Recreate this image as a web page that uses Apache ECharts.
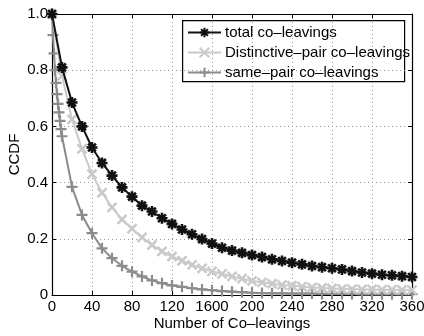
<!DOCTYPE html>
<html>
<head>
<meta charset="utf-8">
<script src="https://cdn.jsdelivr.net/npm/echarts@6/dist/echarts.min.js"></script>
<style>html,body{margin:0;padding:0;background:#fff}#c{width:424px;height:336px}</style>
</head>
<body>
<div id="c"></div>
<script>
var xTicks = [0, 40, 80, 120, 160, 200, 240, 280, 320, 360];
var xTickLabels = ['0', '40', '80', '120', '1600', '200', '240', '280', '320', '360'];
var yTicks = [0, 0.2, 0.4, 0.6, 0.8, 1.0];
var yTickLabels = ['0', '0.2', '0.4', '0.6', '0.8', '1.0'];

var seriesNames = ['total co\u2013leavings', 'Distinctive\u2013pair co\u2013leavings', 'same\u2013pair co\u2013leavings'];

var xCommon = [0,10,20,30,40,50,60,70,80,90,100,110,120,130,140,150,160,170,180,190,200,210,220,230,240,250,260,270,280,290,300,310,320,330,340,350,360];
var totalVals = [1.0,0.81,0.685,0.60,0.525,0.47,0.425,0.383,0.35,0.318,0.297,0.273,0.253,0.233,0.216,0.199,0.183,0.168,0.158,0.150,0.142,0.135,0.127,0.121,0.115,0.109,0.103,0.099,0.095,0.091,0.085,0.080,0.076,0.072,0.070,0.067,0.064];
var distinctVals = [1.0,0.78,0.625,0.52,0.43,0.364,0.312,0.269,0.236,0.205,0.178,0.155,0.137,0.122,0.107,0.095,0.084,0.075,0.066,0.058,0.050,0.045,0.040,0.036,0.033,0.030,0.027,0.025,0.023,0.022,0.021,0.020,0.020,0.019,0.019,0.018,0.018];

var xSame = [0,1,2,3,4,5,6,7,8,9,10,20,30,40,50,60,70,80,90,100,110,120,130,140,150,160,170,180,190,200,210,220,230,240,250,260,270,280,290,300,310,320,330,340,350,360];
var sameVals = [1.0,0.925,0.86,0.80,0.755,0.715,0.68,0.65,0.62,0.59,0.565,0.385,0.285,0.22,0.166,0.131,0.104,0.083,0.066,0.052,0.042,0.034,0.029,0.024,0.020,0.017,0.014,0.012,0.010,0.008,0.007,0.006,0.006,0.005,0.005,0.005,0.004,0.004,0.004,0.004,0.003,0.003,0.003,0.003,0.003,0.003];

function pairs(xs, ys) { return xs.map(function (x, i) { return [x, ys[i]]; }); }

var FONT = 'Liberation Sans';
var starPath = 'path://M5 0 L5 10 M0 5 L10 5 M1.46 1.46 L8.54 8.54 M1.46 8.54 L8.54 1.46';
var crossPath = 'path://M0 0 L10 10 M0 10 L10 0';
var plusPath = 'path://M5 0 L5 10 M0 5 L10 5';

var chart = echarts.init(document.getElementById('c'));

function axisBase(extra) {
  var o = {
    type: 'value',
    axisLine: { show: true, onZero: false, lineStyle: { color: '#000', width: 1.2 } },
    axisTick: { show: true, inside: true, length: 4, lineStyle: { color: '#000' } },
    axisLabel: { show: false },
    splitLine: { show: false }
  };
  for (var k in extra) o[k] = extra[k];
  return o;
}

chart.setOption({
  backgroundColor: '#fff',
  animation: false,
  grid: { left: 52, right: 12, top: 14, bottom: 41, show: false, containLabel: false, outerBoundsMode: 'none' },
  xAxis: [
    axisBase({
      min: 0, max: 360, interval: 40, position: 'bottom',
      name: 'Number of Co\u2013leavings', nameLocation: 'middle', nameGap: 21, nameMoveOverlap: false,
      nameTextStyle: { fontFamily: FONT, fontSize: 15, color: '#000' },
      axisLabel: { show: true, margin: 4, fontFamily: FONT, fontSize: 15, color: '#000',
        formatter: function (v) { var i = xTicks.indexOf(v); return i >= 0 ? xTickLabels[i] : ''; } },
      splitLine: { show: true, lineStyle: { color: '#999', type: [1, 3], width: 1 } }
    }),
    axisBase({ min: 0, max: 360, interval: 40, position: 'top' })
  ],
  yAxis: [
    axisBase({
      min: 0, max: 1, interval: 0.2, position: 'left',
      name: 'CCDF', nameLocation: 'middle', nameGap: 30, nameMoveOverlap: false,
      nameTextStyle: { fontFamily: FONT, fontSize: 15, color: '#000' },
      axisLabel: { show: true, margin: 4, fontFamily: FONT, fontSize: 15, color: '#000',
        formatter: function (v) {
          for (var i = 0; i < yTicks.length; i++) if (Math.abs(yTicks[i] - v) < 1e-9) return yTickLabels[i];
          return '';
        } },
      splitLine: { show: true, lineStyle: { color: '#999', type: [1, 3], width: 1 } }
    }),
    axisBase({ min: 0, max: 1, interval: 0.2, position: 'right' })
  ],
  legend: {
    orient: 'vertical', left: 185, top: 23, itemWidth: 33, itemHeight: 12, itemGap: 5,
    padding: 2,
    textStyle: { fontFamily: FONT, fontSize: 15, color: '#000', padding: [0, 0, 0, -1] },
    data: seriesNames
  },
  graphic: [{
    type: 'rect', left: 182, top: 20, z: 0,
    shape: { width: 222, height: 61 },
    style: { fill: '#fff', stroke: '#000', lineWidth: 1.2 }
  }],
  series: [
    {
      name: seriesNames[0], type: 'line', data: pairs(xCommon, totalVals), z: 5,
      symbol: starPath, symbolSize: 11, showAllSymbol: true,
      lineStyle: { color: '#111', width: 2 },
      itemStyle: { color: '#111', borderColor: '#111', borderWidth: 2.6 }
    },
    {
      name: seriesNames[1], type: 'line', data: pairs(xCommon, distinctVals), z: 4,
      symbol: crossPath, symbolSize: 9, showAllSymbol: true,
      lineStyle: { color: '#cacaca', width: 2 },
      itemStyle: { color: '#cacaca', borderColor: '#cacaca', borderWidth: 2.6 }
    },
    {
      name: seriesNames[2], type: 'line', data: pairs(xSame, sameVals), z: 3,
      symbol: plusPath, symbolSize: 11, showAllSymbol: true,
      lineStyle: { color: '#8c8c8c', width: 2 },
      itemStyle: { color: '#8c8c8c', borderColor: '#8c8c8c', borderWidth: 2.2 }
    }
  ]
});
</script>
</body>
</html>
